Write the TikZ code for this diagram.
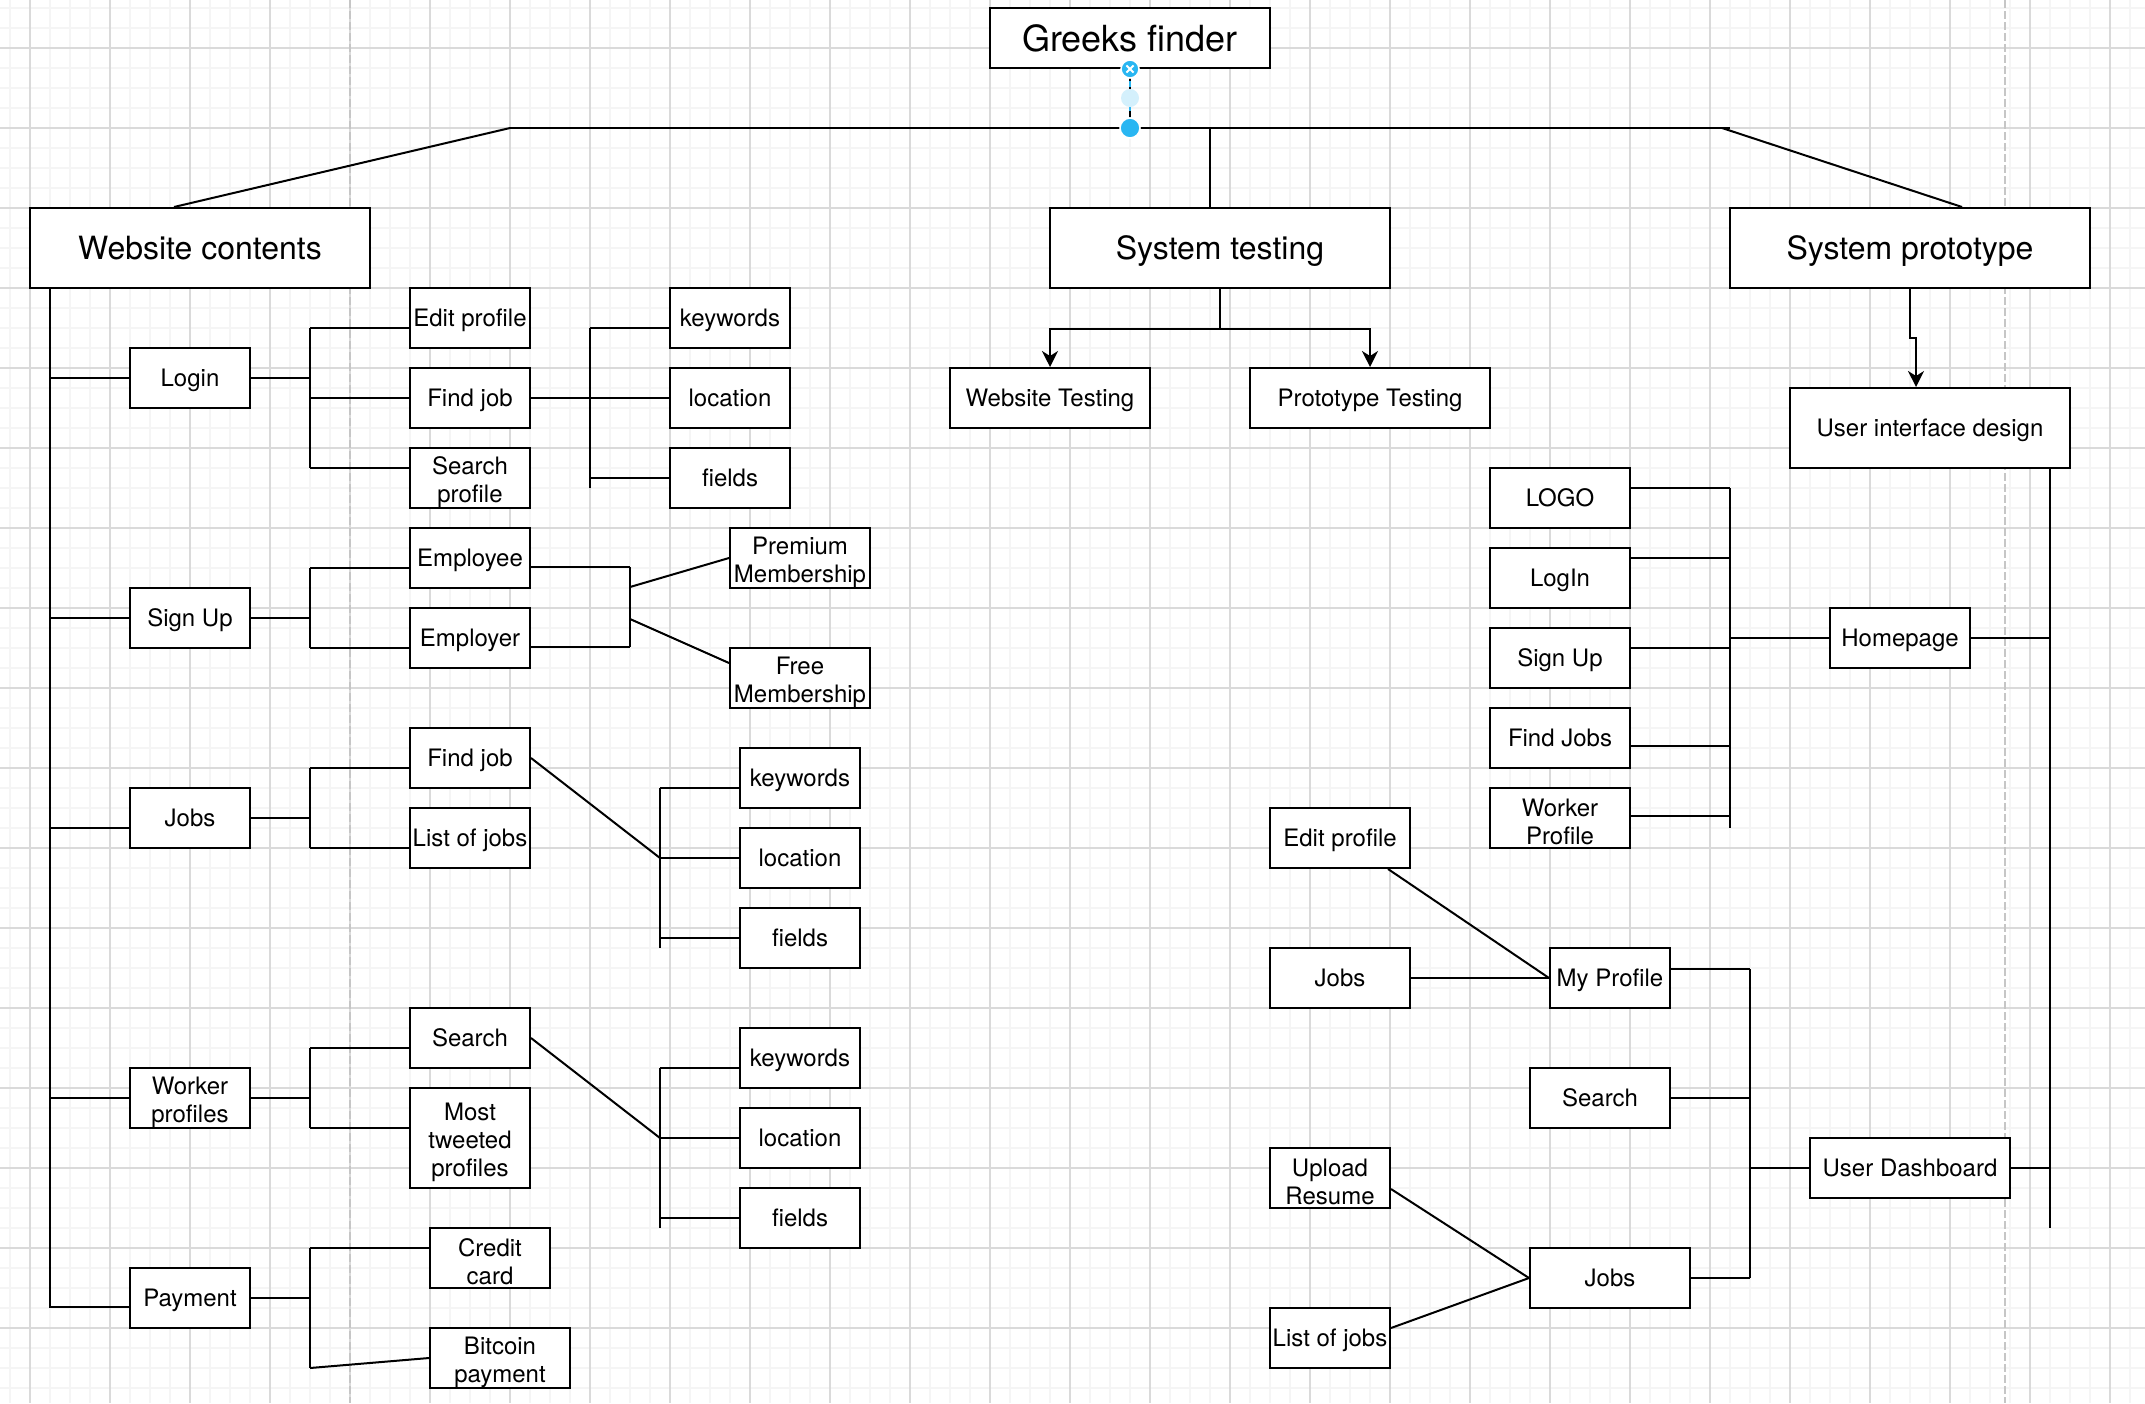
\documentclass[tikz,border=0pt]{standalone}
\usepackage{fontspec}
\setmainfont{TeX Gyre Heros}
\usetikzlibrary{arrows.meta}
\definecolor{gridminor}{RGB}{245,245,245}
\definecolor{gridmajor}{RGB}{218,218,218}
\definecolor{pagebreak}{RGB}{198,198,198}
\definecolor{handle}{RGB}{41,182,242}
\newcommand{\tstrut}{\rule{0pt}{13.5pt}}
\newcommand{\bstrut}{\rule[-1pt]{0pt}{1pt}}

\begin{document}
\begin{tikzpicture}[x=0.5pt, y=-0.5pt, >={Stealth[length=8pt,width=8pt,inset=2.5pt]},
    box/.style={draw, fill=white, line width=1pt, inner sep=1pt, align=center,
        font=\fontsize{12}{14}\selectfont, text height=11.6pt, text depth=3pt,
        minimum width=60pt, minimum height=30pt},
    multi/.style={text height=, text depth=, inner sep=0pt},
    head/.style={box, font=\fontsize{16}{19}\selectfont, text height=15pt, text depth=3.9pt,
        minimum width=170pt, minimum height=40pt},
    link/.style={line width=1pt}]

    \useasboundingbox (0,0) rectangle (2145,1403);
    \fill[white] (0,0) rectangle (2145,1403);

    % Background grid
    \foreach \x in {10,30,...,2145} \draw[gridminor, line width=1pt] (\x,0) -- (\x,1403);
    \foreach \y in {8,28,...,1403} \draw[gridminor, line width=1pt] (0,\y) -- (2145,\y);
    \foreach \x in {30,110,...,2145} \draw[gridmajor, line width=1pt] (\x,0) -- (\x,1403);
    \foreach \y in {48,128,...,1403} \draw[gridmajor, line width=1pt] (0,\y) -- (2145,\y);
    \foreach \x in {350,2005} \draw[pagebreak, line width=1pt, dash pattern=on 4pt off 1.5pt] (\x,0) -- (\x,1403);

    % Top level
    \node[box, minimum width=140pt, font=\fontsize{18}{21}\selectfont, text height=16.5pt] (title) at (1130,38) {Greeks finder};
    \node[head] (webc) at (200,248) {Website contents};
    \node[head] (systest) at (1220,248) {System testing};
    \node[head, minimum width=180pt] (sysproto) at (1910,248) {System prototype};

    % Website contents
    \node[box] (login) at (190,378) {Login};
    \node[box] (signup) at (190,618) {Sign Up};
    \node[box] (jobs) at (190,818) {Jobs};
    \node[box, multi] (workerp) at (190,1098) {\tstrut Worker\\profiles\bstrut};
    \node[box] (payment) at (190,1298) {Payment};

    \node[box] (editp) at (470,318) {Edit profile};
    \node[box] (findj) at (470,398) {Find job};
    \node[box, multi] (searchp) at (470,478) {\tstrut Search\\profile\bstrut};
    \node[box] (kw1) at (730,318) {keywords};
    \node[box] (loc1) at (730,398) {location};
    \node[box] (fld1) at (730,478) {fields};

    \node[box] (employee) at (470,558) {Employee};
    \node[box] (employer) at (470,638) {Employer};
    \node[box, multi, minimum width=70pt] (premium) at (800,558) {\tstrut Premium\\Membership\bstrut};
    \node[box, multi, minimum width=70pt] (free) at (800,678) {\tstrut Free\\Membership\bstrut};

    \node[box] (findj2) at (470,758) {Find job};
    \node[box] (listj) at (470,838) {List of jobs};
    \node[box] (kw2) at (800,778) {keywords};
    \node[box] (loc2) at (800,858) {location};
    \node[box] (fld2) at (800,938) {fields};

    \node[box] (search) at (470,1038) {Search};
    \node[box, multi, minimum height=50pt] (tweeted) at (470,1138) {\tstrut Most\\tweeted\\profiles\bstrut};
    \node[box] (kw3) at (800,1058) {keywords};
    \node[box] (loc3) at (800,1138) {location};
    \node[box] (fld3) at (800,1218) {fields};

    \node[box, multi] (credit) at (490,1258) {\tstrut Credit\\card\bstrut};
    \node[box, multi, minimum width=70pt] (bitcoin) at (500,1358) {\tstrut Bitcoin\\payment\bstrut};

    % System testing
    \node[box, minimum width=100pt] (webtest) at (1050,398) {Website Testing};
    \node[box, minimum width=120pt] (prototest) at (1370,398) {Prototype Testing};

    % System prototype
    \node[box, minimum width=140pt, minimum height=40pt] (uid) at (1930,428) {User interface design};
    \node[box, minimum width=70pt] (logo) at (1560,498) {LOGO};
    \node[box, minimum width=70pt] (loginr) at (1560,578) {LogIn};
    \node[box, minimum width=70pt] (signupr) at (1560,658) {Sign Up};
    \node[box, minimum width=70pt] (findjobs) at (1560,738) {Find Jobs};
    \node[box, multi, minimum width=70pt] (workerr) at (1560,818) {\tstrut Worker\\Profile\bstrut};
    \node[box, minimum width=70pt] (homepage) at (1900,638) {Homepage};

    \node[box, minimum width=70pt] (editr) at (1340,838) {Edit profile};
    \node[box, minimum width=70pt] (jobsr) at (1340,978) {Jobs};
    \node[box] (myprof) at (1610,978) {My Profile};
    \node[box, minimum width=70pt] (searchr) at (1600,1098) {Search};
    \node[box, minimum width=100pt] (dash) at (1910,1168) {User Dashboard};
    \node[box, multi] (upload) at (1330,1178) {\tstrut Upload\\Resume\bstrut};
    \node[box] (listr) at (1330,1338) {List of jobs};
    \node[box, minimum width=80pt] (jobs2) at (1610,1278) {Jobs};

    % Top bus
    \coordinate (busL) at (510,128);
    \coordinate (busC) at (1130,128);
    \coordinate (busR) at (1730,128);
    \draw[link] (busL) -- (busR);
    \draw[link] (busL) -- ([xshift=-13pt]webc.north);
    \draw[link] ([xshift=-4pt]busR) -- ([xshift=26pt]sysproto.north);
    \draw[link] ([xshift=-5pt]systest.north) -- ([xshift=-5pt]systest.north |- busC);

    % Selected connector with its handles
    \draw[link] (title.south) -- (busC);
    \draw[link, handle, dash pattern=on 3pt off 3pt] (title.south) -- (busC);
    \fill[handle!20] (1130,98) circle (4.5pt);
    \filldraw[fill=handle, draw=white, line width=0.8pt] (title.south) circle (4.5pt);
    \draw[white, line width=0.9pt] ([shift={(-1.8pt,-1.8pt)}]title.south) -- ([shift={(1.8pt,1.8pt)}]title.south);
    \draw[white, line width=0.9pt] ([shift={(-1.8pt,1.8pt)}]title.south) -- ([shift={(1.8pt,-1.8pt)}]title.south);
    \filldraw[fill=handle, draw=white, line width=0.8pt] (busC) circle (5pt);

    % Website contents spine
    \coordinate (spL) at (50,1308);
    \draw[link] ([xshift=-75pt]webc.south) -- (spL);
    \foreach \c/\s in {login/0pt, signup/0pt, jobs/-5pt, workerp/0pt, payment/-4.5pt}
        \draw[link] ([yshift=\s]\c.west) -- ([yshift=\s]\c.west -| spL);

    % Login
    \coordinate (lgT) at (310,328);
    \coordinate (lgB) at (310,468);
    \draw[link] (lgT) -- (lgB);
    \draw[link] (login.east) -- (login.east -| lgT);
    \foreach \c/\s in {editp/-5pt, findj/0pt, searchp/5pt}
        \draw[link] ([yshift=\s]\c.west) -- ([yshift=\s]\c.west -| lgT);

    \coordinate (fjT) at (590,328);
    \coordinate (fjB) at (590,488);
    \draw[link] (fjT) -- (fjB);
    \draw[link] (findj.east) -- (findj.east -| fjT);
    \foreach \c/\s in {kw1/-5pt, loc1/0pt, fld1/0pt}
        \draw[link] ([yshift=\s]\c.west) -- ([yshift=\s]\c.west -| fjT);

    % Sign Up
    \coordinate (suT) at (310,568);
    \coordinate (suB) at (310,648);
    \draw[link] (suT) -- (suB);
    \draw[link] (signup.east) -- (signup.east -| suT);
    \foreach \c in {employee, employer}
        \draw[link] ([yshift=-5pt]\c.west) -- ([yshift=-5pt]\c.west -| suT);

    \coordinate (mbT) at (630,567);
    \coordinate (mbB) at (630,647);
    \coordinate (mbP) at (630,587);
    \coordinate (mbF) at (630,619);
    \draw[link] (mbT) -- (mbB);
    \foreach \c in {employee, employer}
        \draw[link] ([yshift=-4.5pt]\c.east) -- ([yshift=-4.5pt]\c.east -| mbT);
    \draw[link] (mbP) -- (premium.west);
    \draw[link] (mbF) -- ([yshift=7.5pt]free.west);

    % Jobs
    \coordinate (jbT) at (310,768);
    \coordinate (jbB) at (310,848);
    \draw[link] (jbT) -- (jbB);
    \draw[link] (jobs.east) -- (jobs.east -| jbT);
    \foreach \c in {findj2, listj}
        \draw[link] ([yshift=-5pt]\c.west) -- ([yshift=-5pt]\c.west -| jbT);

    \coordinate (fj2T) at (660,788);
    \coordinate (fj2B) at (660,948);
    \coordinate (fj2M) at (660,858);
    \draw[link] (fj2T) -- (fj2B);
    \draw[link] (findj2.east) -- (fj2M);
    \foreach \c/\s in {kw2/-5pt, loc2/0pt, fld2/0pt}
        \draw[link] ([yshift=\s]\c.west) -- ([yshift=\s]\c.west -| fj2T);

    % Worker profiles
    \coordinate (wpT) at (310,1048);
    \coordinate (wpB) at (310,1128);
    \draw[link] (wpT) -- (wpB);
    \draw[link] (workerp.east) -- (workerp.east -| wpT);
    \foreach \c/\s in {search/-5pt, tweeted/5pt}
        \draw[link] ([yshift=\s]\c.west) -- ([yshift=\s]\c.west -| wpT);

    \coordinate (srT) at (660,1068);
    \coordinate (srB) at (660,1228);
    \coordinate (srM) at (660,1138);
    \draw[link] (srT) -- (srB);
    \draw[link] (search.east) -- (srM);
    \foreach \c/\s in {kw3/-5pt, loc3/0pt, fld3/0pt}
        \draw[link] ([yshift=\s]\c.west) -- ([yshift=\s]\c.west -| srT);

    % Payment
    \coordinate (pyT) at (310,1248);
    \coordinate (pyB) at (310,1368);
    \draw[link] (pyT) -- (pyB);
    \draw[link] (payment.east) -- (payment.east -| pyT);
    \draw[link] ([yshift=5pt]credit.west) -- ([yshift=5pt]credit.west -| pyT);
    \draw[link] (pyB) -- (bitcoin.west);

    % System testing
    \draw[link, ->] (systest.south) -- ++(0,40) -| (webtest.north);
    \draw[link, ->] (systest.south) -- ++(0,40) -| (prototest.north);

    % System prototype
    \draw[link, ->] (sysproto.south) -- ++(0,49) -| ([xshift=-7pt]uid.north);
    \coordinate (spR) at (2050,1228);
    \draw[link] ([xshift=60pt]uid.south) -- (spR);
    \draw[link] (homepage.east) -- (homepage.east -| spR);
    \draw[link] (dash.east) -- (dash.east -| spR);

    % Homepage
    \coordinate (hpT) at (1730,488);
    \coordinate (hpB) at (1730,828);
    \draw[link] (hpT) -- (hpB);
    \foreach \c/\s in {logo/5pt, loginr/10pt, signupr/5pt, findjobs/-4pt, workerr/1pt}
        \draw[link] ([yshift=\s]\c.east) -- ([yshift=\s]\c.east -| hpT);
    \draw[link] (homepage.west) -- (homepage.west -| hpT);

    % User Dashboard
    \coordinate (dbT) at (1750,969);
    \coordinate (dbB) at (1750,1278);
    \draw[link] (dbT) -- (dbB);
    \draw[link] ([yshift=4.5pt]myprof.east) -- (dbT);
    \draw[link] (searchr.east) -- (searchr.east -| dbT);
    \draw[link] (jobs2.east) -- (dbB);
    \draw[link] (dash.west) -- (dash.west -| dbT);

    \draw[link] ([xshift=24pt]editr.south) -- (myprof.west);
    \draw[link] (jobsr.east) -- (myprof.west);
    \draw[link] ([yshift=-5.5pt]upload.east) -- (jobs2.west);
    \draw[link] ([yshift=5pt]listr.east) -- (jobs2.west);

\end{tikzpicture}
\end{document}
